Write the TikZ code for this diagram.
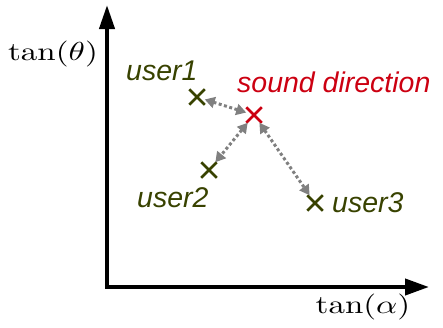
\documentclass[tikz,border=0pt]{standalone}
\usepackage{fontspec}
\setsansfont{Liberation Sans}
\usetikzlibrary{arrows.meta,shapes.misc}
\definecolor{usercol}{RGB}{56,66,0}
\definecolor{soundcol}{RGB}{204,0,17}
\definecolor{raycol}{RGB}{128,128,128}
\newcommand{\axislabel}[1]{\scalebox{3.3}[2.6]{$#1$}}
\begin{document}
\begin{tikzpicture}[
  x=1pt, y=-1pt,
  axis/.style={line width=4pt, {Triangle[length=24pt, width=15pt]}-{Triangle[length=24pt, width=16pt]}},
  crossmark/.style={cross out, draw, minimum size=13pt, inner sep=0pt, line width=2.5pt},
  ray/.style={draw=raycol, line width=3pt, dash pattern=on 3pt off 2.5pt,
    {Triangle[length=10pt, width=11pt]}-{Triangle[length=10pt, width=11pt]}},
  lbl/.style={font=\fontsize{28.5}{30}\selectfont\sffamily\itshape, inner sep=0pt, anchor=base west},
]
  \useasboundingbox (0,0) rectangle (443,327);
  % axes
  \coordinate (ytop) at (107,5);
  \coordinate (xend) at (429,287);
  \draw[axis] (ytop) |- (xend);
  \node[inner sep=0pt, anchor=base] (ylbl) at (53,60) {\axislabel{\tan(\theta)}};
  \node[inner sep=0pt, anchor=base] (xlbl) at (363,313) {\axislabel{\tan(\alpha)}};
  % positions
  \node[crossmark, draw=soundcol] (snd) at (254,115) {};
  \node[crossmark, draw=usercol] (u1) at (197,97) {};
  \node[crossmark, draw=usercol] (u2) at (209,170) {};
  \node[crossmark, draw=usercol] (u3) at (315,203) {};
  % labels
  \node[lbl, text=soundcol] (tsnd) at (237,92) {sound direction};
  \node[lbl, text=usercol] (t1) at (126,80) {user1};
  \node[lbl, text=usercol] (t2) at (137,207) {user2};
  \node[lbl, text=usercol] (t3) at (332,212) {user3};
  % distances
  \draw[ray] (snd) -- (u1);
  \draw[ray] (snd) -- (u2);
  \draw[ray] (snd) -- (u3);
\end{tikzpicture}
\end{document}
